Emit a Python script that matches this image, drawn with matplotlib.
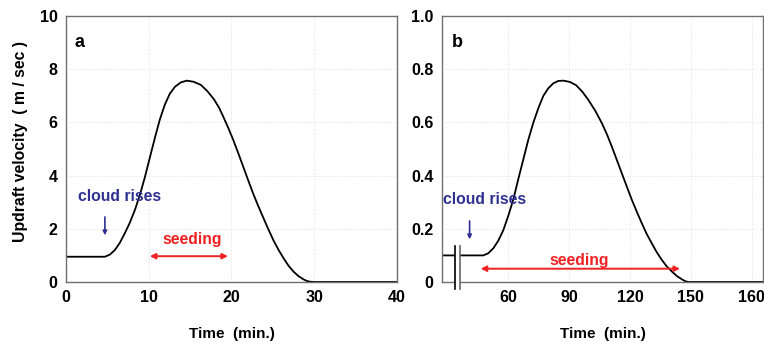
import matplotlib
matplotlib.use("Agg")
import matplotlib.pyplot as plt
from matplotlib.patches import Rectangle

plt.rcParams['font.family'] = ['Liberation Sans', 'DejaVu Sans']
plt.rcParams['font.weight'] = 'bold'

# Panel a data (time in min, updraft in m/s)
time_a = [0, 2, 4, 4.7, 5.3, 5.9, 6.5, 7.1, 7.7, 8.34, 8.95, 9.55, 10.15, 10.76, 11.35,
          11.96, 12.55, 13.17, 13.85, 14.58, 15.4, 16.3, 17.1, 17.9, 18.5, 19.0, 19.6,
          20.2, 20.8, 21.4, 22.0, 22.6, 23.2, 23.8, 24.4, 25.05, 25.7, 26.3, 26.9, 27.5,
          28.1, 28.7, 29.1, 29.5, 30, 40]
vel_a = [0.95, 0.95, 0.95, 0.95, 1.03, 1.2, 1.47, 1.83, 2.22, 2.72, 3.3, 3.96, 4.7, 5.44,
         6.12, 6.68, 7.08, 7.34, 7.5, 7.57, 7.53, 7.41, 7.17, 6.86, 6.55, 6.22, 5.8,
         5.35, 4.86, 4.35, 3.84, 3.34, 2.88, 2.45, 2.02, 1.58, 1.2, 0.89, 0.61, 0.39,
         0.22, 0.1, 0.04, 0.01, 0.0, 0.0]

# Panel b data
time_b = [27.5, 40, 47.8, 50.3, 52.8, 55.2, 57.7, 60.1, 62.6, 65.0, 67.5, 70.0, 72.5,
          75.0, 77.4, 79.8, 82.3, 84.8, 87.3, 90.5, 93.5, 96.5, 99.6, 103.0, 106.2,
          108.7, 111.1, 113.5, 116.0, 118.5, 121.0, 123.5, 125.9, 128.3, 130.8, 133.2,
          135.7, 138.2, 140.7, 143.2, 145.6, 147.2, 148.8, 185.5]
vel_b = [0.1, 0.1, 0.1, 0.108, 0.127, 0.155, 0.195, 0.248, 0.31, 0.385, 0.46, 0.535, 0.60,
         0.655, 0.70, 0.728, 0.747, 0.756, 0.757, 0.752, 0.74, 0.716, 0.684, 0.643, 0.597,
         0.555, 0.509, 0.46, 0.409, 0.358, 0.308, 0.262, 0.22, 0.18, 0.145, 0.112,
         0.083, 0.058, 0.039, 0.022, 0.01, 0.003, 0.0, 0.0]

xticks_a = [0, 10, 20, 30, 40]
yticks_a = [0, 2, 4, 6, 8, 10]
xticks_b = [60, 90, 120, 150, 180]
xticklabels_b = ['60', '90', '120', '150', '160']
yticks_b = [0, 0.2, 0.4, 0.6, 0.8, 1.0]
yticklabels_b = ['0', '0.2', '0.4', '0.6', '0.8', '1.0']

blue = '#2e3192'
red = '#ee2222'
spine_c = '#707070'
fs_tick = 11.5
fs_text = 11.3
fs_lab = 11

fig = plt.figure(figsize=(7.64, 3.45), dpi=100)
axa = fig.add_axes([0.0864, 0.1826, 0.4332, 0.771])
axb = fig.add_axes([0.5785, 0.1826, 0.4202, 0.771])

for ax in (axa, axb):
    for s in ax.spines.values():
        s.set_color(spine_c)
        s.set_linewidth(1.0)
    ax.tick_params(length=0, labelsize=fs_tick, pad=6)
    ax.grid(True, color='#d8d8d8', linestyle=(0, (1, 2)), linewidth=0.6)
    ax.set_axisbelow(True)

# Panel a
axa.plot(time_a, vel_a, color='black', lw=1.3)
axa.set_xlim(0, 40)
axa.set_ylim(0, 10)
axa.set_xticks(xticks_a)
axa.set_yticks(yticks_a)
axa.set_xticklabels([str(v) for v in xticks_a], fontweight='bold')
axa.set_yticklabels([str(v) for v in yticks_a], fontweight='bold')
axa.set_xlabel('Time  (min.)', fontsize=fs_lab, fontweight='bold')
axa.xaxis.set_label_coords(0.5, -0.17)
axa.set_ylabel('Updraft velocity  ( m / sec )', fontsize=11.3, fontweight='bold')
axa.yaxis.set_label_coords(-0.115, 0.53)
axa.text(1.0, 9.0, 'a', fontsize=13, fontweight='bold', va='center')
axa.text(1.4, 3.2, 'cloud rises', color=blue, fontsize=fs_text, fontweight='bold', va='center')
axa.annotate('', xy=(4.7, 1.65), xytext=(4.7, 2.55),
             arrowprops=dict(arrowstyle='-|>', color=blue, lw=1.2, mutation_scale=6))
axa.text(15.3, 1.6, 'seeding', color=red, fontsize=fs_text, fontweight='bold', ha='center', va='center')
axa.annotate('', xy=(9.8, 0.97), xytext=(19.9, 0.97),
             arrowprops=dict(arrowstyle='<|-|>', color=red, lw=1.4, mutation_scale=8))

# Panel b
axb.plot(time_b, vel_b, color='black', lw=1.3)
axb.set_xlim(27.5, 185.5)
axb.set_ylim(0, 1.0)
axb.set_xticks(xticks_b)
axb.set_yticks(yticks_b)
axb.set_xticklabels(xticklabels_b, fontweight='bold')
axb.set_yticklabels(yticklabels_b, fontweight='bold')
axb.set_xlabel('Time  (min.)', fontsize=fs_lab, fontweight='bold')
axb.xaxis.set_label_coords(0.5, -0.17)
axb.text(32.5, 0.9, 'b', fontsize=13, fontweight='bold', va='center')
axb.text(28.0, 0.31, 'cloud rises', color=blue, fontsize=fs_text, fontweight='bold', va='center')
axb.annotate('', xy=(41.1, 0.15), xytext=(41.1, 0.24),
             arrowprops=dict(arrowstyle='-|>', color=blue, lw=1.2, mutation_scale=6))
axb.text(95.2, 0.08, 'seeding', color=red, fontsize=fs_text, fontweight='bold', ha='center', va='center')
axb.annotate('', xy=(45.2, 0.05), xytext=(146, 0.05),
             arrowprops=dict(arrowstyle='<|-|>', color=red, lw=1.4, mutation_scale=8))
# axis break marks
axb.add_patch(Rectangle((33.8, -0.03), 2.5, 0.17, facecolor='white', edgecolor='none',
                        clip_on=False, zorder=5))
axb.plot([33.8, 33.8], [-0.025, 0.135], color='black', lw=1.2, clip_on=False, zorder=6)
axb.plot([36.3, 36.3], [-0.025, 0.135], color='#666666', lw=1.2, clip_on=False, zorder=6)

fig.savefig('out.png', dpi=100)
